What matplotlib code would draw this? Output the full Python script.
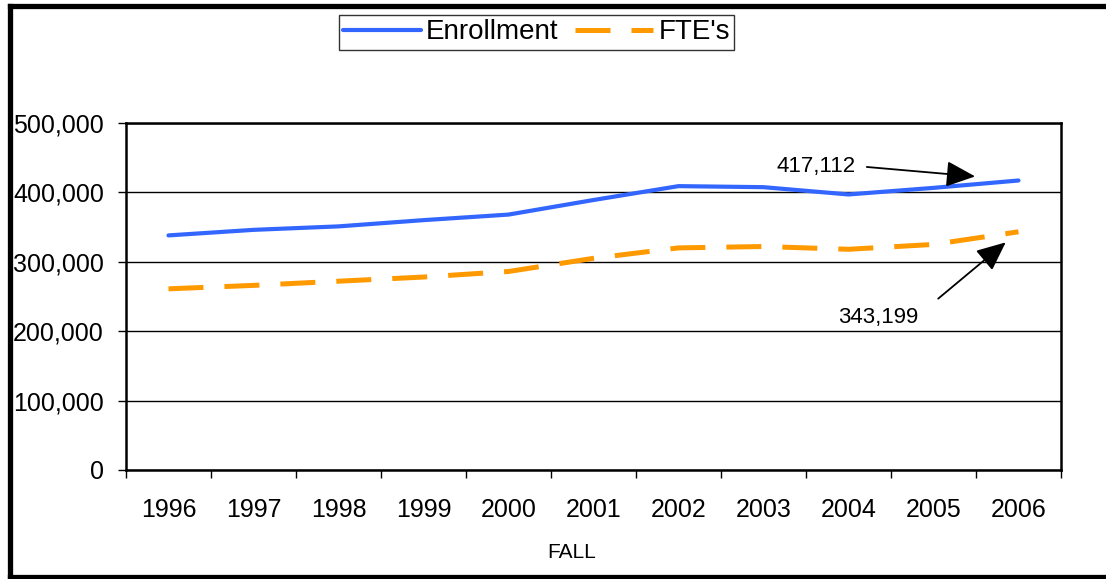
import matplotlib.pyplot as plt
from matplotlib.lines import Line2D
from matplotlib.ticker import FuncFormatter

plt.rcParams['font.family'] = ['Liberation Sans', 'DejaVu Sans']

# data
years = ["1996", "1997", "1998", "1999", "2000", "2001",
         "2002", "2003", "2004", "2005", "2006"]
enrollment = [338000, 346000, 351000, 360000, 368000, 389000,
              409000, 407500, 397000, 406500, 417112]
ftes = [261000, 266000, 272000, 278000, 286000, 305000,
        320000, 322000, 318000, 325000, 343199]

fig = plt.figure(figsize=(11.06, 5.79), dpi=100)
ax = fig.add_axes([0.1139, 0.1883, 0.8454, 0.5993])

x = list(range(len(years)))
ax.plot(x, enrollment, color="#3366FF", lw=3.0, solid_capstyle="round",
        label="Enrollment", zorder=3)
ax.plot(x, ftes, color="#FF9900", lw=3.6, dashes=(7.0, 4.2),
        label="FTE's", zorder=3)

# axes
ax.set_xlim(-0.5, len(years) - 0.5)
ax.set_ylim(0, 500000)
ax.set_yticks([0, 100000, 200000, 300000, 400000, 500000])
ax.yaxis.set_major_formatter(FuncFormatter(lambda v, p: f"{int(v):,}"))
ax.set_xticks(x)
ax.set_xticklabels(years)
ax.set_xticks([i - 0.5 for i in range(len(years) + 1)], minor=True)
ax.tick_params(axis="x", which="major", length=0, pad=20, labelsize=18)
ax.tick_params(axis="x", which="minor", length=6, width=1, direction="out")
ax.tick_params(axis="y", length=6, width=1, pad=10, labelsize=18)
ax.set_xlabel("FALL", fontsize=15, labelpad=10)
ax.xaxis.set_label_coords(0.477, -0.21)

ax.grid(axis="y", color="black", lw=1.0)
ax.set_axisbelow(True)
for s in ax.spines.values():
    s.set_linewidth(1.8)
    s.set_color("black")

# annotations
arrow = dict(arrowstyle="-|>,head_length=0.9,head_width=0.4",
             color="black", lw=1.3, mutation_scale=20)
ax.annotate(f"{enrollment[-1]:,}", xy=(9.49, 423000), xytext=(7.62, 438000),
            fontsize=16, ha="center", va="center",
            arrowprops=dict(arrow, relpos=(1.0, 0.5), shrinkA=6, shrinkB=0))
ax.annotate(f"{ftes[-1]:,}", xy=(9.85, 328000), xytext=(8.35, 220000),
            fontsize=16, ha="center", va="center",
            arrowprops=dict(arrow, relpos=(1.0, 0.6), shrinkA=16, shrinkB=0))

# legend at top
leg = fig.legend(loc="center", bbox_to_anchor=(0.485, 0.944), ncol=2,
                 fontsize=20, frameon=True, fancybox=False, handlelength=2.8,
                 handletextpad=0.2, columnspacing=0.6, borderpad=0.15,
                 borderaxespad=0)
leg.get_frame().set_edgecolor("black")
leg.get_frame().set_linewidth(1.0)

# outer frame (left, top, bottom)
W, H = 1106, 579
fx0 = 9.5 / W
fy_top = 1 - 5.5 / H
fy_bot = 1 - 576.5 / H
for xs, ys in [([fx0, fx0], [fy_bot, fy_top]),
               ([fx0, 1.0], [fy_top, fy_top]),
               ([fx0, 1.0], [fy_bot, fy_bot])]:
    fig.add_artist(Line2D(xs, ys, color="black", lw=3.8,
                          solid_capstyle="projecting"))

fig.savefig("out.png", dpi=100)
